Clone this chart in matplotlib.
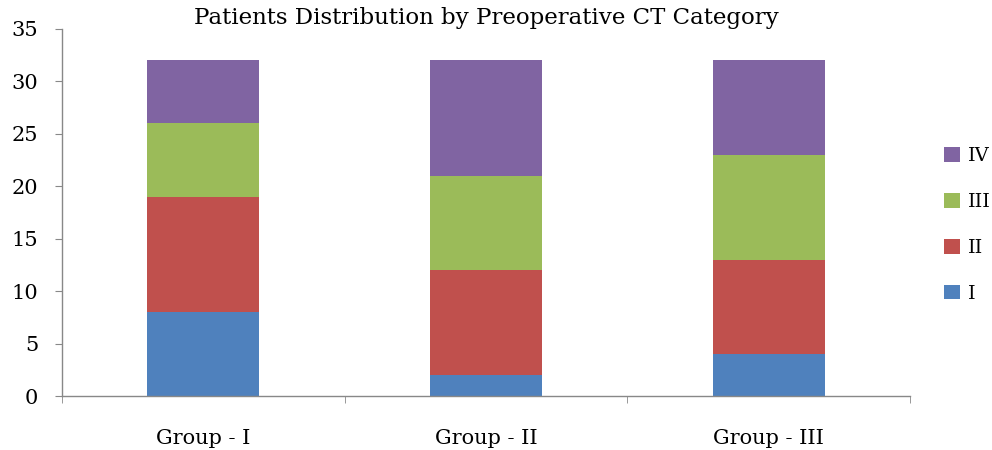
import matplotlib
matplotlib.use("Agg")
import matplotlib.pyplot as plt
import numpy as np

groups = ["Group - I", "Group - II", "Group - III"]
series_names = ["I", "II", "III", "IV"]
val_I = [8, 2, 4]
val_II = [11, 10, 9]
val_III = [7, 9, 10]
val_IV = [6, 11, 9]
colors = ["#4F81BD", "#C0504D", "#9BBB59", "#8064A2"]

plt.rcParams['font.family'] = ['DejaVu Serif']

fig = plt.figure(figsize=(9.92, 4.5), dpi=100)
ax = fig.add_axes([0.0625, 0.12, 0.855, 0.8156])

x = np.arange(len(groups))
bottom = np.zeros(len(groups))
handles = []
for name, vals, c in zip(series_names, [val_I, val_II, val_III, val_IV], colors):
    h = ax.bar(x, vals, width=0.396, bottom=bottom, color=c, label=name)
    handles.append(h)
    bottom += np.array(vals)

ax.set_xlim(-0.5, 2.5)
ax.set_ylim(0, 35)
ax.set_yticks(range(0, 36, 5))
ax.set_xticks(x)
ax.set_xticklabels(groups, fontsize=15)
ax.set_xticks([-0.5, 0.5, 1.5, 2.5], minor=True)
ax.tick_params(axis='x', which='major', length=0, pad=24)
ax.tick_params(axis='x', which='minor', length=5, color='#888888', direction='out')
ax.tick_params(axis='y', length=5, color='#888888', direction='out', labelsize=15, pad=12)
for s in ['top', 'right']:
    ax.spines[s].set_visible(False)
for s in ['left', 'bottom']:
    ax.spines[s].set_color('#888888')
    ax.spines[s].set_linewidth(1.0)

ax.set_title("Patients Distribution by Preoperative CT Category", fontsize=16.5, pad=3)

leg = fig.legend(handles[::-1], series_names[::-1], loc='center left',
                 bbox_to_anchor=(0.952, 0.5), frameon=False, fontsize=14,
                 handlelength=0.8, handleheight=0.8, labelspacing=1.42, handletextpad=0.4,
                 borderaxespad=0, borderpad=0)

fig.savefig("out.png", dpi=100)
